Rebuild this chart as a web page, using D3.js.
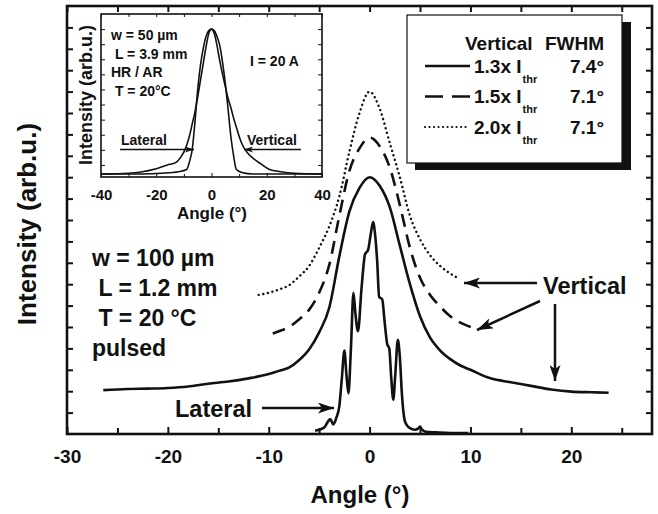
<!DOCTYPE html>
<html>
<head>
<meta charset="utf-8">
<script src="https://cdn.jsdelivr.net/npm/d3@7"></script>
<style>
  body { margin: 0; background: #fff; }
  svg text { font-family: "Liberation Sans", Arial, sans-serif; font-weight: bold; fill: #111; }
  .axis path { display: none; }
  .axis line { stroke: #111; }
</style>
</head>
<body>
<div id="chart"></div>
<script>
// Far-field profiles: [angle (deg), intensity (arb.u.)]
var vertical13 = [[-26.4,2.05],[-24,2.1],[-22,2.12],[-20,2.15],[-18,2.22],[-16,2.35],[-14,2.45],[-12,2.6],
  [-10,2.8],[-9,2.95],[-8,3.1],[-7,3.45],[-6,3.95],[-5,4.75],[-4,5.9],[-3,8.3],[-2,10.4],[-1,11.5],
  [0,12.0],[1,11.6],[2,10.6],[3,8.8],[4,7.0],[5,5.5],[6,4.5],[7,3.9],[8,3.5],[9,3.2],[10,3.0],
  [12,2.6],[14,2.42],[16,2.25],[18,2.08],[20,1.98],[22,1.95],[23.7,1.93]];

var vertical15 = [[-9.6,4.7],[-9,4.8],[-8,5.0],[-7,5.35],[-6,5.8],[-5,6.6],[-4,7.9],[-3,10.2],[-2,12.3],
  [-1,13.35],[0,13.85],[1,13.45],[2,12.45],[3,10.7],[4,8.7],[5,7.3],[6,6.5],[7,5.95],[8,5.5],[9,5.2],
  [10,5.0],[10.75,4.85]];

var vertical20 = [[-11,6.5],[-10,6.6],[-9,6.75],[-8,6.95],[-7,7.35],[-6,7.85],[-5,8.7],[-4,9.7],[-3,11.1],
  [-2,13.2],[-1,15.0],[0,16.0],[1,15.2],[2,13.6],[3,12.0],[4,10.2],[5,9.1],[6,8.35],[7,7.85],[8,7.5],[8.7,7.3]];

var lateral = [[-5.4,0.15],[-4.9,0.22],[-4.5,0.3],[-4.1,0.6],[-3.9,0.7],[-3.6,0.45],[-3.3,0.75],[-3.0,1.3],
  [-2.75,2.6],[-2.5,3.9],[-2.3,2.8],[-2.1,1.9],[-1.85,4.0],[-1.6,6.6],[-1.4,5.6],[-1.15,4.8],[-0.8,6.8],
  [-0.45,8.4],[-0.15,8.6],[0.1,9.3],[0.35,9.9],[0.55,9.3],[0.75,8.1],[0.95,6.4],[1.25,6.3],[1.5,5.2],
  [1.75,4.2],[1.95,4.0],[2.15,2.6],[2.35,1.6],[2.55,2.8],[2.8,4.4],[3.0,3.6],[3.2,1.9],[3.5,0.6],
  [3.8,0.35],[4.1,0.25],[4.5,0.2],[4.8,0.25],[5.0,0.35],[5.2,0.2],[5.6,0.1],[6.5,0.08],[8,0.05],[9.8,0.05]];

// inset (w = 50 um device)
var insetVertical = [[-40,-0.6],[-30,-0.55],[-25,-0.45],[-20,-0.25],[-16,0.0],[-13,0.15],[-11,0.55],
  [-9.5,1.05],[-8,1.9],[-7,2.7],[-6,3.5],[-5,4.5],[-4,5.6],[-3,6.7],[-2,7.8],[-1,8.7],[0,9.0],[1,8.7],
  [2,7.9],[3,6.9],[4,6.0],[5,5.2],[6,4.4],[7,3.8],[8,3.1],[9,2.5],[10,1.9],[11,1.4],[13,0.8],[15,0.45],
  [18,0.05],[21,-0.3],[25,-0.45],[30,-0.55],[40,-0.6]];

var insetLateral = [[-40,-0.6],[-25,-0.6],[-18,-0.55],[-12,-0.45],[-9,-0.3],[-8,0.2],[-7,1.0],[-6,2.8],
  [-5,5.0],[-4,6.6],[-3,7.7],[-2,8.5],[-1,8.9],[0,9.0],[1,8.9],[2,8.5],[3,7.9],[4,6.8],[5,5.4],[6,3.7],
  [7,1.9],[8,0.6],[9,-0.3],[11,-0.5],[15,-0.6],[40,-0.6]];

var xTicks = [-30, -20, -10, 0, 10, 20];
var xMinorTicks = [-25, -15, -5, 5, 15, 25];
var yTicks = d3.range(1, 20);
var insetXTicks = [-40, -20, 0, 20, 40];
var insetXMinor = [-30, -10, 10, 30];
var insetYTicks = d3.range(0, 10);

var legendFactors = ["1.3x", "1.5x", "2.0x"];
var legendFwhm = ["7.4°", "7.1°", "7.1°"];
var mainNotes = ["w = 100 µm", " L = 1.2 mm", " T = 20 °C", "pulsed"];
var insetNotes = ["w = 50 µm", " L = 3.9 mm", "HR / AR", " T = 20°C"];

var W = 658, H = 514;
var svg = d3.select("#chart").append("svg").attr("width", W).attr("height", H);
var plain = function(d) { return String(d); };   // hyphen minus, as in the figure

var defs = svg.append("defs");
function arrowMarker(id, len, half) {
  defs.append("marker")
      .attr("id", id)
      .attr("markerUnits", "userSpaceOnUse")
      .attr("viewBox", "0 0 " + len + " " + (2 * half))
      .attr("markerWidth", len).attr("markerHeight", 2 * half)
      .attr("refX", len).attr("refY", half)
      .attr("orient", "auto")
    .append("path")
      .attr("d", "M0,0L" + len + "," + half + "L0," + (2 * half) + "L" + (len * 0.25) + "," + half + "Z")
      .attr("fill", "#111");
}
arrowMarker("head", 16, 5.5);
arrowMarker("headSmall", 9, 3);

// ---- main plot
var mL = 67, mR = 652, mT = 6, mB = 434;
var x = d3.scaleLinear().domain([-30, 28]).range([mL, mR]);
var y = d3.scaleLinear().domain([0, 20]).range([mB, mT]);

svg.append("g").attr("class", "axis")
    .attr("transform", "translate(0," + mB + ")")
    .call(d3.axisBottom(x).tickValues(xTicks).tickSize(-7).tickPadding(16).tickFormat(plain))
    .selectAll("text").attr("font-size", 19).attr("fill", "#111");
svg.append("g").attr("class", "axis")
    .attr("transform", "translate(0," + mB + ")")
    .call(d3.axisBottom(x).tickValues(xMinorTicks).tickSize(-6).tickFormat(""));
svg.append("g").attr("class", "axis")
    .attr("transform", "translate(0," + mT + ")")
    .call(d3.axisTop(x).tickValues(xTicks.concat(xMinorTicks)).tickSize(-6).tickFormat(""));
svg.append("g").attr("class", "axis")
    .attr("transform", "translate(" + mL + ",0)")
    .call(d3.axisLeft(y).tickValues(yTicks).tickSize(-6).tickFormat(""));
svg.append("g").attr("class", "axis")
    .attr("transform", "translate(" + mR + ",0)")
    .call(d3.axisRight(y).tickValues(yTicks).tickSize(-6).tickFormat(""));
svg.selectAll(".axis line").attr("stroke-width", 2);

svg.append("rect")
    .attr("x", mL).attr("y", mT)
    .attr("width", mR - mL).attr("height", mB - mT)
    .attr("fill", "none").attr("stroke", "#111").attr("stroke-width", 2.6);

var line = d3.line()
    .x(function(d) { return x(d[0]); })
    .y(function(d) { return y(d[1]); })
    .curve(d3.curveMonotoneX);

svg.append("path").datum(vertical13).attr("d", line)
    .attr("fill", "none").attr("stroke", "#111").attr("stroke-width", 2.6);
svg.append("path").datum(vertical15).attr("d", line)
    .attr("fill", "none").attr("stroke", "#111").attr("stroke-width", 2.6)
    .attr("stroke-dasharray", "13,8");
svg.append("path").datum(vertical20).attr("d", line)
    .attr("fill", "none").attr("stroke", "#111").attr("stroke-width", 2.4)
    .attr("stroke-linecap", "round").attr("stroke-dasharray", "0.1,4.6");
svg.append("path").datum(lateral).attr("d", line)
    .attr("fill", "none").attr("stroke", "#111").attr("stroke-width", 2.6)
    .attr("stroke-linejoin", "round");

// axis titles
svg.append("text")
    .attr("x", 360).attr("y", 503)
    .attr("text-anchor", "middle").attr("font-size", 24)
    .text("Angle (°)");
svg.append("text")
    .attr("transform", "translate(36,224) rotate(-90)")
    .attr("text-anchor", "middle").attr("font-size", 26)
    .text("Intensity (arb.u.)");

// device notes
svg.selectAll("text.note").data(mainNotes).enter().append("text")
    .attr("class", "note")
    .attr("x", 92).attr("y", function(d, i) { return 266 + i * 30; })
    .attr("font-size", 23).style("white-space", "pre")
    .text(function(d) { return d; });

// annotations
svg.append("text").attr("x", 175).attr("y", 417).attr("font-size", 23.5).text("Lateral");
svg.append("line")
    .attr("x1", 262).attr("y1", 408).attr("x2", 334).attr("y2", 408)
    .attr("stroke", "#111").attr("stroke-width", 2.5).attr("marker-end", "url(#head)");

svg.append("text").attr("x", 543).attr("y", 294).attr("font-size", 23.5).text("Vertical");
var vArrows = [[537, 283, 464, 283], [540, 301, 477, 330], [555, 304, 555, 381]];
svg.selectAll("line.varrow").data(vArrows).enter().append("line")
    .attr("class", "varrow")
    .attr("x1", function(d) { return d[0]; }).attr("y1", function(d) { return d[1]; })
    .attr("x2", function(d) { return d[2]; }).attr("y2", function(d) { return d[3]; })
    .attr("stroke", "#111").attr("stroke-width", 2.5).attr("marker-end", "url(#head)");

// ---- legend with drop shadow
var lg = svg.append("g");
lg.append("rect").attr("x", 415).attr("y", 22).attr("width", 216).attr("height", 148).attr("fill", "#111");
lg.append("rect").attr("x", 407).attr("y", 15).attr("width", 215).attr("height", 148)
    .attr("fill", "#fff").attr("stroke", "#111").attr("stroke-width", 1.2);
lg.append("text").attr("x", 465).attr("y", 50).attr("font-size", 19).text("Vertical");
lg.append("text").attr("x", 604).attr("y", 50).attr("font-size", 19).attr("text-anchor", "end").text("FWHM");
var legendDash = [null, "18,9", "0.1,4.4"];
legendFactors.forEach(function(f, i) {
  var by = 72.5 + i * 30.5;
  lg.append("line")
      .attr("x1", 425).attr("x2", 470).attr("y1", by - 6.5).attr("y2", by - 6.5)
      .attr("stroke", "#111").attr("stroke-width", i === 2 ? 2.2 : 2.6)
      .attr("stroke-linecap", i === 2 ? "round" : "butt")
      .attr("stroke-dasharray", legendDash[i]);
  var t = lg.append("text").attr("x", 474).attr("y", by).attr("font-size", 19);
  t.append("tspan").text(f + " I");
  t.append("tspan").attr("dy", 10).attr("dx", 1).attr("font-size", 11).text("thr");
  lg.append("text").attr("x", 570).attr("y", by).attr("font-size", 19).text(legendFwhm[i]);
});

// ---- inset
var iL = 101, iR = 322, iT = 14, iB = 177;
var xi = d3.scaleLinear().domain([-40, 40]).range([iL, iR]);
var yi = d3.scaleLinear().domain([-0.8, 10]).range([iB, iT]);
var ig = svg.append("g");
ig.append("rect").attr("x", iL).attr("y", iT).attr("width", iR - iL).attr("height", iB - iT)
    .attr("fill", "#fff");

ig.append("g").attr("class", "axis")
    .attr("transform", "translate(0," + iB + ")")
    .call(d3.axisBottom(xi).tickValues(insetXTicks).tickSize(-4).tickPadding(12).tickFormat(plain))
    .selectAll("text").attr("font-size", 15).attr("fill", "#111");
ig.append("g").attr("class", "axis")
    .attr("transform", "translate(0," + iB + ")")
    .call(d3.axisBottom(xi).tickValues(insetXMinor).tickSize(-3).tickFormat(""));
ig.append("g").attr("class", "axis")
    .attr("transform", "translate(0," + iT + ")")
    .call(d3.axisTop(xi).tickValues(insetXTicks.concat(insetXMinor)).tickSize(-3).tickFormat(""));
ig.append("g").attr("class", "axis")
    .attr("transform", "translate(" + iL + ",0)")
    .call(d3.axisLeft(yi).tickValues(insetYTicks).tickSize(-4).tickFormat(""));
ig.append("g").attr("class", "axis")
    .attr("transform", "translate(" + iR + ",0)")
    .call(d3.axisRight(yi).tickValues(insetYTicks).tickSize(-4).tickFormat(""));

var iline = d3.line()
    .x(function(d) { return xi(d[0]); })
    .y(function(d) { return yi(d[1]); })
    .curve(d3.curveMonotoneX);
ig.append("path").datum(insetVertical).attr("d", iline)
    .attr("fill", "none").attr("stroke", "#111").attr("stroke-width", 1.6);
ig.append("path").datum(insetLateral).attr("d", iline)
    .attr("fill", "none").attr("stroke", "#111").attr("stroke-width", 1.6);

ig.append("rect").attr("x", iL).attr("y", iT).attr("width", iR - iL).attr("height", iB - iT)
    .attr("fill", "none").attr("stroke", "#111").attr("stroke-width", 1.6);

ig.selectAll("text.inote").data(insetNotes).enter().append("text")
    .attr("class", "inote")
    .attr("x", 111).attr("y", function(d, i) { return 40 + i * 18.5; })
    .attr("font-size", 14).style("white-space", "pre")
    .text(function(d) { return d; });
ig.append("text").attr("x", 250).attr("y", 66).attr("font-size", 14).text("I = 20 A");

ig.append("text").attr("x", 121).attr("y", 145).attr("font-size", 14).text("Lateral");
ig.append("line").attr("x1", 120).attr("y1", 149.5).attr("x2", 194).attr("y2", 149.5)
    .attr("stroke", "#111").attr("stroke-width", 1.3).attr("marker-end", "url(#headSmall)");
ig.append("text").attr("x", 247).attr("y", 145).attr("font-size", 14).text("Vertical");
ig.append("line").attr("x1", 301).attr("y1", 149.5).attr("x2", 244).attr("y2", 149.5)
    .attr("stroke", "#111").attr("stroke-width", 1.3).attr("marker-end", "url(#headSmall)");

ig.append("text").attr("x", 212).attr("y", 219).attr("text-anchor", "middle").attr("font-size", 17)
    .text("Angle (°)");
ig.append("text").attr("transform", "translate(92,95) rotate(-90)")
    .attr("text-anchor", "middle").attr("font-size", 18)
    .text("Intensity (arb.u.)");
</script>
</body>
</html>
